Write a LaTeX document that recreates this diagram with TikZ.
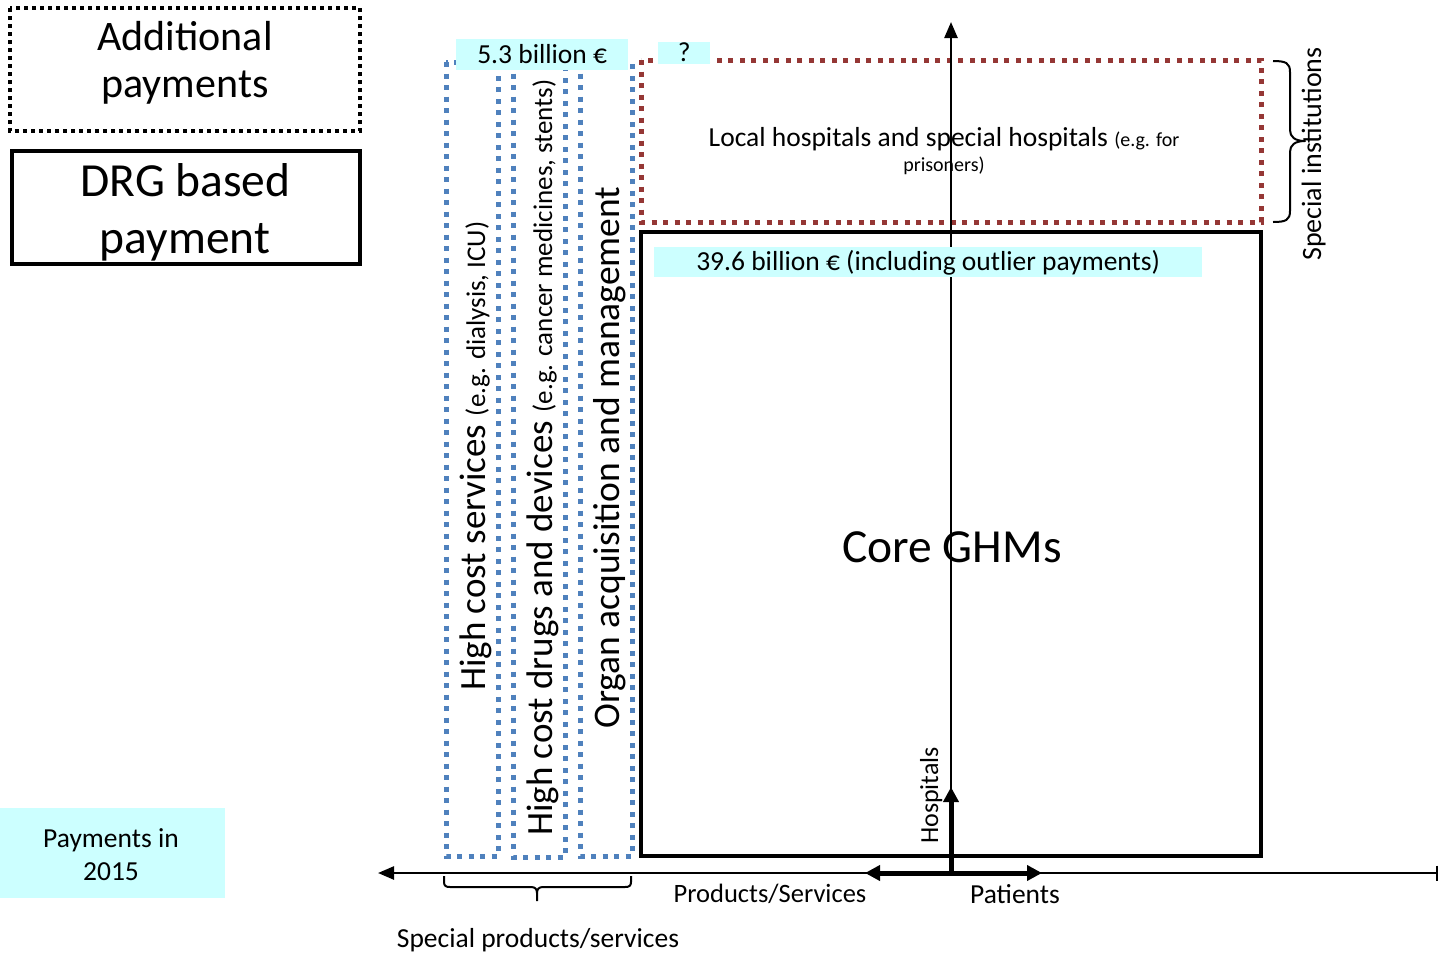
\documentclass[tikz,border=0pt]{standalone}
\usepackage{fontspec}
\setmainfont{Carlito}
\usetikzlibrary{arrows.meta}
\definecolor{dotblue}{RGB}{79,129,189}
\definecolor{dotred}{RGB}{149,55,53}
\definecolor{tagcyan}{RGB}{204,255,255}
\newcommand\fsz[1]{\fontsize{#1}{#1}\selectfont}
\begin{document}
\begin{tikzpicture}[x=1pt,y=-1pt,
  bluebox/.style={draw=dotblue,line width=5pt,dash pattern=on 5pt off 6.5pt},
  redbox/.style={draw=dotred,line width=5pt,dash pattern=on 5pt off 6.5pt},
  legdot/.style={draw=black,line width=4pt,dash pattern=on 4pt off 4pt},
  solidbox/.style={draw=black,line width=4.5pt},
  tag/.style={fill=tagcyan,inner sep=0pt,anchor=north west,font=\fsz{27.5},text height=17.5pt,text depth=0pt},
  txt/.style={inner sep=0pt,anchor=base},
  vtxt/.style={inner sep=0pt,anchor=base west,rotate=90},
  axisline/.style={line width=2.5pt},
  flow/.style={line width=5pt,-{Triangle[length=15pt,width=15pt]}},
  bracket/.style={line width=2pt,line join=round}
]
\useasboundingbox (0,0) rectangle (1441,954);

% legend
\draw[legdot] (10,8) rectangle (360,131);
\node[txt] (addA) at (185,50) {\fsz{42}Additional};
\node[txt] (addB) at (185,97) {\fsz{42}payments};
\draw[solidbox] (12,151) rectangle (360,264);
\node[txt] (drgA) at (185.5,196) {\fsz{47.5}DRG based};
\node[txt] (drgB) at (185,253) {\fsz{47.5}payment};

% year tag
\node[fill=tagcyan,inner sep=0pt,anchor=north west,minimum width=225pt,minimum height=90pt] (year) at (0,808) {};
\node[txt] (yearA) at (111,847) {\fsz{27.5}Payments in};
\node[txt] (yearB) at (111,880) {\fsz{27.5}2015};

% special products/services columns
\draw[bluebox] (446,62) rectangle (498,856);
\draw[bluebox] (513,62) rectangle (565,857);
\draw[bluebox] (580,62) rectangle (632,856);
\node[vtxt] (colA) at (485,691) {\fsz{37}High cost services \fsz{27}(e.g. dialysis, ICU)};
\node[vtxt] (colB) at (552,836) {\fsz{37}High cost drugs and devices \fsz{27}(e.g. cancer medicines, stents)};
\node[vtxt] (colC) at (619,729) {\fsz{37.5}Organ acquisition and management};

% special institutions and core GHMs
\draw[redbox] (641,60) rectangle (1261,222);
\draw[solidbox] (641,232) rectangle (1261,856);
\node[txt] (local) at (944,146) {\fsz{27.5}Local hospitals and special hospitals \fsz{20}(e.g. for};
\node[txt] (localB) at (944,171) {\fsz{20}prisoners)};
\node[txt] (core) at (952,562) {\fsz{47.5}Core GHMs};

% amount tags
\node[tag,minimum width=172pt,minimum height=31pt] (sumA) at (456,39) {5.3 billion €};
\node[tag,minimum width=52pt,minimum height=22pt] (sumQ) at (658,42) {?};

% axes
\coordinate (origin) at (951,873);
\coordinate (top) at (951,22);
\coordinate (left) at (378,873);
\coordinate (right) at (1438,873);
\draw[axisline,-{Triangle[length=16pt,width=13pt]}] (origin) -- (top);
\draw[axisline,{Triangle[length=16pt,width=13pt]}-{Bar[width=15pt,line width=2.5pt]}] (left) -- (right);

\node[tag,minimum width=548pt,minimum height=30pt] (sumB) at (654,247) {39.6 billion € (including outlier payments)};

% dimension arrows
\coordinate (prodend) at (865,873);
\coordinate (patend) at (1042,873);
\coordinate (hospend) at (951,787);
\draw[flow] (origin) -- (prodend);
\draw[flow] (origin) -- (patend);
\draw[flow] (origin) -- (hospend);
\node[txt] (prod) at (770,902) {\fsz{26.5}Products/Services};
\node[txt] (pat) at (1015,903) {\fsz{27.5}Patients};
\node[vtxt] (hosp) at (938,844) {\fsz{26}Hospitals};

% braces
\draw[bracket] (444,876) -- (444,882) .. controls (444,886) and (446,887) .. (450,887)
  -- (531,887) .. controls (535,887) and (537,889) .. (537,893) -- (537,901);
\draw[bracket] (537,893) .. controls (537,889) and (539,887) .. (543,887)
  -- (625,887) .. controls (629,887) and (631,886) .. (631,882) -- (631,876);
\node[txt] (specprod) at (538,947) {\fsz{27.5}Special products/services};

\draw[bracket] (1273,61) .. controls (1286,61) and (1290,63) .. (1290,72) -- (1290,130)
  .. controls (1290,137) and (1295,141) .. (1305,141)
  .. controls (1295,141) and (1290,145) .. (1290,152) -- (1290,211)
  .. controls (1290,220) and (1286,222) .. (1273,222);
\node[vtxt] (specinst) at (1321,261) {\fsz{28}Special institutions};
\end{tikzpicture}
\end{document}
